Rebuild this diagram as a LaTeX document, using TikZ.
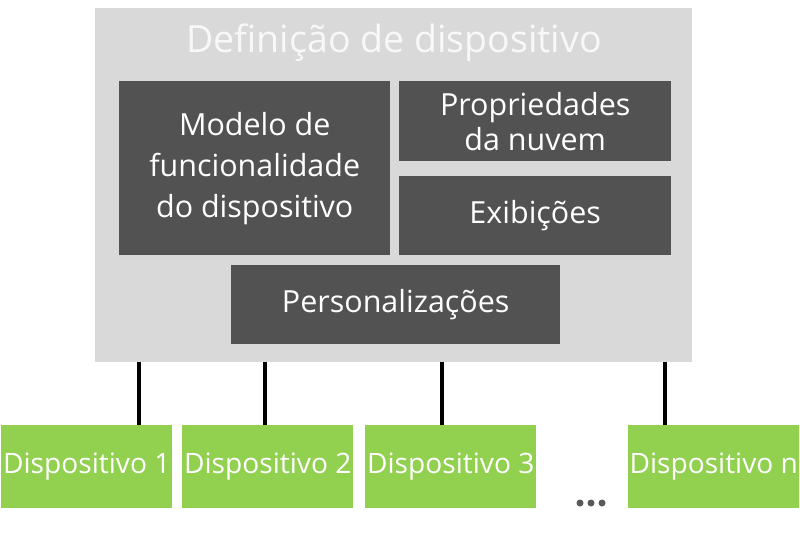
\documentclass[tikz,border=0pt]{standalone}
\usepackage{fontspec}
\setmainfont{Open Sans}
\usepackage{xcolor}
\usetikzlibrary{positioning}

\definecolor{fundo}{HTML}{D9D9D9}
\definecolor{caixa}{HTML}{525252}
\definecolor{verde}{HTML}{92D050}
\definecolor{pontos}{HTML}{595959}
\definecolor{claro}{HTML}{F8F8F8}

\tikzset{
	bloco/.style={fill=caixa, text=white, align=center, inner sep=0pt,
		anchor=north west, font=\fontsize{26}{35}\selectfont},
	disp/.style={fill=verde, text=white, inner sep=0pt, anchor=north west,
		minimum width=5.13cm, minimum height=2.49cm,
		font=\fontsize{24}{30}\selectfont},
	ligacao/.style={line width=3.4pt, black}
}

\begin{document}
\begin{tikzpicture}[x=0.03cm,y=-0.03cm]
		\useasboundingbox (0,0) rectangle (800,534);
		
		\node[fill=fundo, inner sep=0pt, anchor=north west,
		minimum width=17.91cm, minimum height=10.62cm] (def) at (95,8) {};
		\node[text=claro, anchor=base, font=\fontsize{32}{36}\selectfont] 
		(titulo) at (394,53) {Definição de dispositivo};
		
		\node[bloco, minimum width=8.13cm, minimum height=5.22cm] 
		(modelo) at (119,81) {Modelo de\\funcionalidade\\do dispositivo};
		\node[bloco, minimum width=8.16cm, minimum height=2.4cm, 
		font=\fontsize{26}{30}\selectfont] 
		(prop) at (399,81) {Propriedades\\da nuvem};
		\node[bloco, minimum width=8.16cm, minimum height=2.37cm] 
		(exib) at (399,176) {Exibições};
		\node[bloco, minimum width=9.87cm, minimum height=2.37cm] 
		(pers) at (231,265) {Personalizações};
		
		\node[disp] (d1) at (1,425) {Dispositivo 1};
		\node[disp] (d2) at (182,425) {Dispositivo 2};
		\node[disp] (d3) at (365,425) {Dispositivo 3};
		\node[disp] (dn) at (628,425) {Dispositivo n};
		
		\coordinate (p1) at (139,362);
		\coordinate (p2) at (265,362);
		\coordinate (p3) at (442,362);
		\coordinate (pn) at (665,362);
		
		\draw[ligacao] (p1) -- (p1 |- d1.north);
		\draw[ligacao] (p2) -- (p2 |- d2.north);
		\draw[ligacao] (p3) -- (p3 |- d3.north);
		\draw[ligacao] (pn) -- (pn |- dn.north);
		
		\foreach \x in {580,591,602}
		\fill[pontos] (\x,503) circle (3.5);
\end{tikzpicture}
\end{document}
